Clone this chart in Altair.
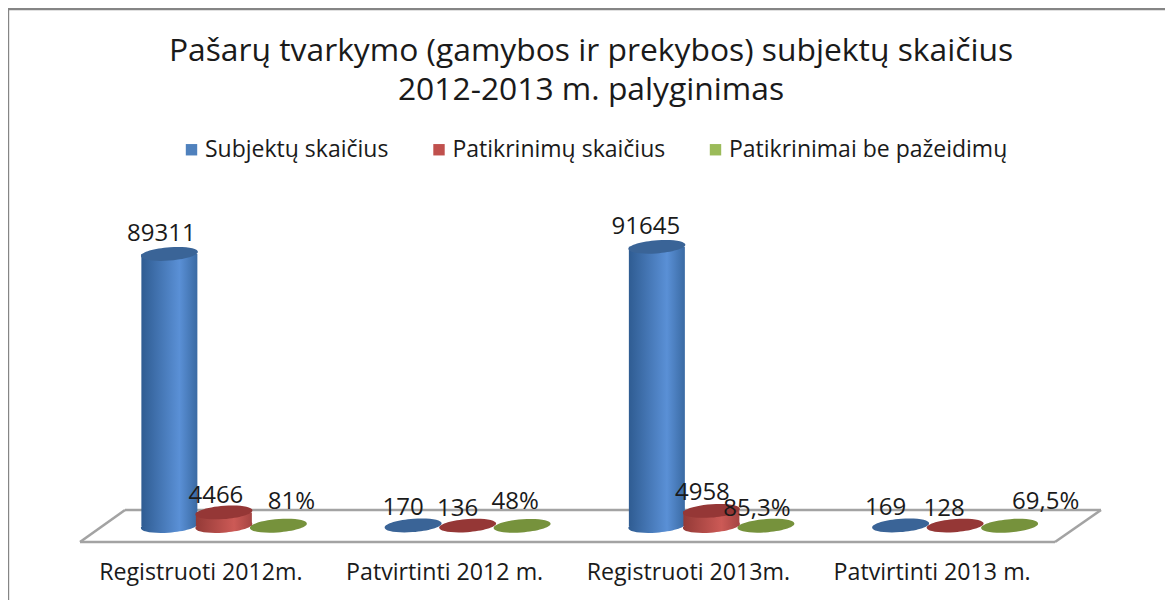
import altair as alt
import pandas as pd

categories = ["Registruoti 2012m.", "Patvirtinti 2012 m.", "Registruoti 2013m.", "Patvirtinti 2013 m."]
series = ["Subjektų skaičius", "Patikrinimų skaičius", "Patikrinimai be pažeidimų"]
subjektai = [89311, 170, 91645, 169]
patikrinimai = [4466, 136, 4958, 128]
be_pazeidimu = [81, 48, 85.3, 69.5]
labels_subjektai = ["89311", "170", "91645", "169"]
labels_patikrinimai = ["4466", "136", "4958", "128"]
labels_be = ["81%", "48%", "85,3%", "69,5%"]
title_lines = ["Pašarų tvarkymo (gamybos ir prekybos) subjektų skaičius", "2012-2013 m. palyginimas"]

rows = []
for s, vals, labs in zip(series, [subjektai, patikrinimai, be_pazeidimu],
                         [labels_subjektai, labels_patikrinimai, labels_be]):
    for c, v, l in zip(categories, vals, labs):
        rows.append({"cat": c, "ser": s, "val": v, "lab": l})
df = pd.DataFrame(rows)

FONT = "Open Sans"
TXT = "#1a1a1a"
TOP = 130          # space above the view
VIEW_W, VIEW_H = 1157, 420
BASE = 526 - 8 - TOP

x_scale = alt.Scale(domain=categories, range=[94, 1069], paddingInner=0, paddingOuter=0)
off_scale = alt.Scale(domain=series, paddingInner=0, paddingOuter=0.736)
y_scale = alt.Scale(domain=[0, 100000], range=[BASE, BASE - 304.6], nice=False, zero=False, clamp=False)

X = alt.X("cat:N", scale=x_scale, sort=categories,
          axis=alt.Axis(title=None, domain=False, ticks=False, grid=False, labelAngle=0,
                        labelFont=FONT, labelFontSize=23.2, labelColor=TXT, labelPadding=3,
                        labelOffset=-23, labelLimit=300))
XO = alt.XOffset("ser:N", scale=off_scale, sort=series)
Y = alt.Y("val:Q", scale=y_scale, axis=None)
Y0 = alt.Y("zero:Q", scale=y_scale, axis=None)

# custom symbol paths span -1..1 and are scaled by half the square root of size
ELLIPSE = "M-1,0.07 A1,0.23 -4.5 1 1 1,-0.07 A1,0.23 -4.5 1 1 -1,0.07 Z"
ELL_SIZE = 57 ** 2


def grad(c1, c2, c3):
    return alt.LinearGradient(gradient="linear", x1=0, y1=0, x2=1, y2=0,
                              stops=[alt.GradientStop(offset=0, color=c1),
                                     alt.GradientStop(offset=0.68, color=c2),
                                     alt.GradientStop(offset=1, color=c3)])


styles = {
    series[0]: (grad("#2f5c92", "#5a90d6", "#3a6aa3"), "#3a6497"),
    series[1]: (grad("#943a37", "#cc5a56", "#a54442"), "#953736"),
    series[2]: (grad("#6d8834", "#a3c45e", "#7a963e"), "#76923c"),
}


def line(x1, y1, x2, y2, color="#a3a3a3", w=2.6):
    return alt.Chart(pd.DataFrame({"d": [0]})).mark_rule(color=color, strokeWidth=w).encode(
        x=alt.value(x1 - 8), x2=alt.value(x2 - 8),
        y=alt.value(y1 - 8 - TOP), y2=alt.value(y2 - 8 - TOP))


# outer frame and floor, in page pixels
decor = [
    line(8, 9, 1165, 9, "#858585", 2.4),
    line(8, 9, 8, 600, "#858585", 2.4),
    line(80, 542, 1055, 542),
    line(125, 510, 1101, 510),
    line(80, 542, 125, 510),
    line(1055, 542, 1101, 510),
]

base = alt.Chart(df).transform_calculate(zero="0")
tall = base.transform_filter(alt.datum.val > 1000)

# flat bars carry the legend's colours
legend_bars = tall.mark_bar(size=54).encode(
    x=X, xOffset=XO, y=Y, y2=alt.Y2("zero:Q"),
    color=alt.Color("ser:N", sort=series,
                    scale=alt.Scale(domain=series, range=["#4f81bd", "#c0504d", "#9bbb59"]),
                    legend=alt.Legend(title=None, orient="none", legendX=172, legendY=130 - TOP,
                                      direction="horizontal", columns=3, columnPadding=38.5,
                                      symbolType="square", symbolSize=130, symbolStrokeWidth=0,
                                      labelFont=FONT, labelFontSize=23, labelColor=TXT,
                                      labelLimit=400, labelOffset=2)),
)

layers = decor + [legend_bars]
for s in series:
    body, top = styles[s]
    sub = base.transform_filter(alt.datum.ser == s)
    sub_tall = sub.transform_filter(alt.datum.val > 1000)
    layers.append(sub_tall.mark_point(filled=True, shape=ELLIPSE, size=ELL_SIZE, fill=body, opacity=1, stroke=None)
                  .encode(x=X, xOffset=XO, y=Y0))
    layers.append(sub_tall.mark_bar(size=56, fill=body).encode(x=X, xOffset=XO, y=Y, y2=alt.Y2("zero:Q")))
    layers.append(sub.mark_point(filled=True, shape=ELLIPSE, size=ELL_SIZE, fill=top, opacity=1, stroke=None)
                  .encode(x=X, xOffset=XO, y=Y))

# hand placement of the data labels, as in the original chart
nudges = {
    (series[0], 0): (-8, -20), (series[1], 0): (-8, -16), (series[2], 0): (13, -24),
    (series[0], 1): (-10, -17), (series[1], 1): (-10, -17), (series[2], 1): (-7, -24),
    (series[0], 2): (-11, -20), (series[1], 2): (-9, -18), (series[2], 2): (-9, -17),
    (series[0], 3): (-15, -17), (series[1], 3): (-11, -17), (series[2], 3): (36, -24),
}
for (s, i), (dx, dy) in nudges.items():
    layers.append(
        base.transform_filter((alt.datum.ser == s) & (alt.datum.cat == categories[i]))
        .mark_text(font=FONT, fontSize=24, color=TXT, dx=dx, dy=dy, baseline="middle", align="center")
        .encode(x=X, xOffset=XO, y=Y, text="lab:N")
    )

chart = alt.layer(*layers).properties(
    width=VIEW_W, height=VIEW_H,
    title=alt.TitleParams(text=title_lines, font=FONT, fontSize=31.8, fontWeight="normal",
                          color=TXT, anchor="middle", dx=4.5, offset=-99, lineHeight=39),
    autosize=alt.AutoSizeParams(type="none"),
    padding={"left": 0, "top": TOP, "right": 0, "bottom": 42},
).configure_view(stroke=None)

chart.save("out.html", embed_options={"renderer": "svg", "actions": False})
